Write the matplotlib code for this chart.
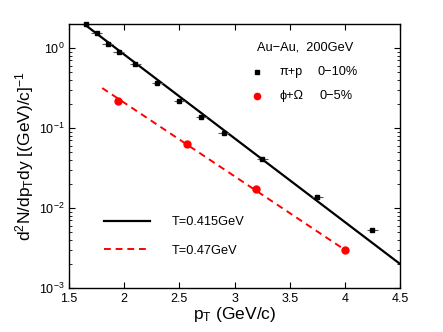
import numpy as np
import matplotlib
matplotlib.use("Agg")
import matplotlib.pyplot as plt

# -----------------------------
# Data
# -----------------------------
pip_pt = [1.65, 1.75, 1.85, 1.95, 2.1, 2.3, 2.5, 2.7, 2.9, 3.25, 3.75, 4.25]
pip_yield = [2.0, 1.52, 1.13, 0.89, 0.63, 0.365, 0.22, 0.137, 0.087, 0.041, 0.0138, 0.0053]
pip_xerr = 0.05

phiom_pt = [1.94, 2.57, 3.19, 4.0]
phiom_yield = [0.22, 0.063, 0.0174, 0.003]

# fit lines (straight on log scale), endpoints
fit1_pt = [1.6, 4.5]
fit1_yield = [2.17, 0.002]
fit2_pt = [1.8, 4.0]
fit2_yield = [0.316, 0.003]

plt.rcParams["font.family"] = ["Liberation Sans", "DejaVu Sans"]
plt.rcParams["mathtext.default"] = "regular"

fig = plt.figure(figsize=(4.43, 3.32), dpi=100)
ax = fig.add_axes([0.156, 0.1325, 0.747, 0.7955])

ax.plot(fit1_pt, fit1_yield, color="black", lw=1.6, label="T=0.415GeV")
ax.plot(fit2_pt, fit2_yield, color="red", lw=1.4, ls=(0, (3.5, 2.5)), label="T=0.47GeV")

eb = ax.errorbar(pip_pt, pip_yield, xerr=pip_xerr, fmt="s", color="black",
                 ms=3.5, elinewidth=0.8, capsize=0, ecolor="#555555")
eb[0].set_clip_on(False)
ax.plot(phiom_pt, phiom_yield, "o", color="red", ms=5)

ax.set_yscale("log")
ax.set_xlim(1.5, 4.5)
ax.set_ylim(1e-3, 2)
ax.set_xticks([1.5, 2, 2.5, 3, 3.5, 4, 4.5])
ax.set_xticklabels(["1.5", "2", "2.5", "3", "3.5", "4", "4.5"])
ax.tick_params(which="both", direction="in", top=True, right=True, labelsize=9)
ax.tick_params(which="major", length=4)
ax.tick_params(which="minor", length=2)
for s in ax.spines.values():
    s.set_linewidth(1.0)

ax.set_xlabel("p$_T$ (GeV/c)", fontsize=12.5, labelpad=0)
ax.set_ylabel("d$^2$N/dp$_T$dy [(GeV)/c]$^{-1}$", fontsize=12.5, labelpad=2)

# -----------------------------
# Annotations / legends
# -----------------------------
ax.text(3.2, 1.0, "Au\u2212Au,  200GeV", fontsize=9.2, va="center")
ax.plot([3.2], [0.5], "s", color="black", ms=3.5)
ax.text(3.41, 0.5, "\u03c0+p", fontsize=9.2, va="center")
ax.text(3.75, 0.5, "0\u221210%", fontsize=9.2, va="center")
ax.plot([3.2], [0.25], "o", color="red", ms=4.5)
ax.text(3.41, 0.25, "\u03d5+\u03a9", fontsize=9.2, va="center")
ax.text(3.77, 0.25, "0\u22125%", fontsize=9.2, va="center")

ax.legend(loc="lower left", bbox_to_anchor=(0.07, 0.075), frameon=False,
          fontsize=9.2, handlelength=3.6, handletextpad=1.7, labelspacing=1.3)

fig.savefig("out.png", dpi=100)
